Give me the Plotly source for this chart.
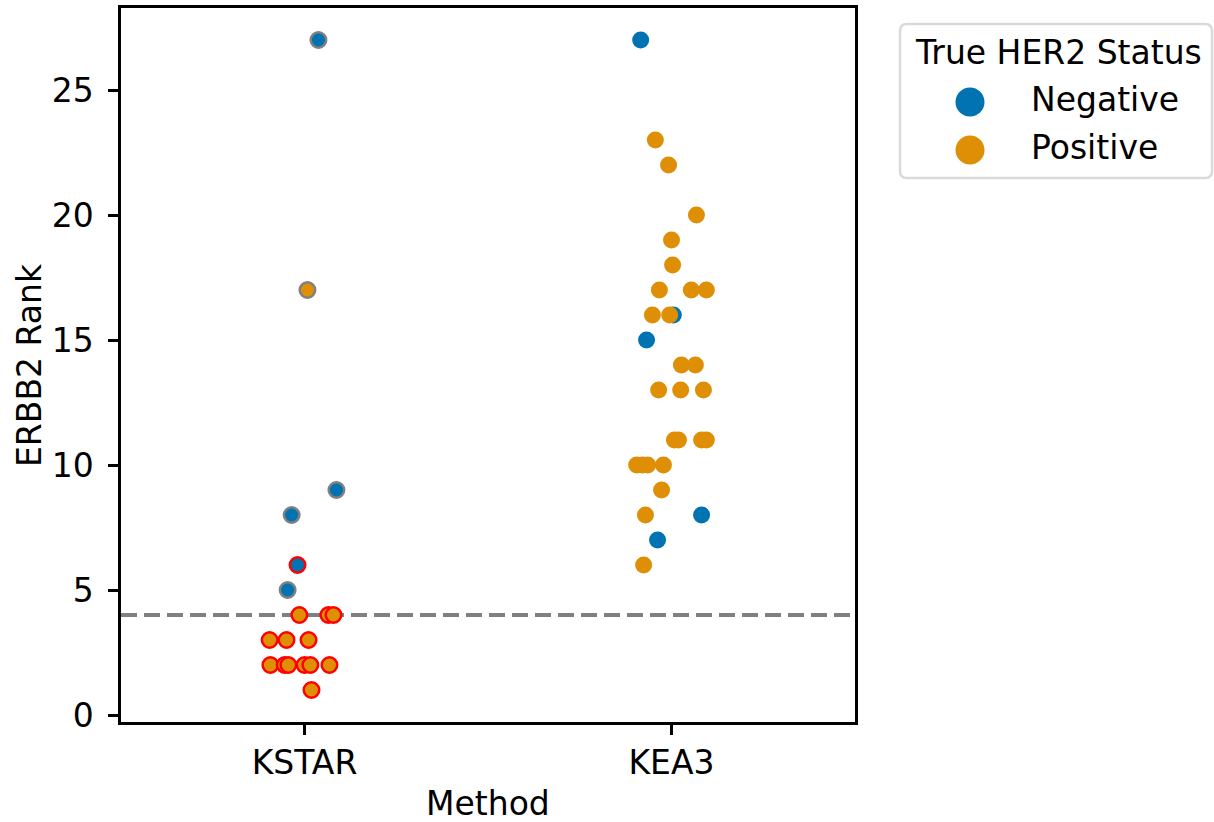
import plotly.graph_objects as go

# ---- data -------------------------------------------------------------
methods = ["KSTAR", "KEA3"]
status_labels = ["Negative", "Positive"]

# KSTAR ranks of ERBB2
kstar_neg_rank = [27, 9, 8, 6, 5]
kstar_neg_jitter = [0.038, 0.087, -0.035, -0.019, -0.046]
kstar_neg_edge = ["grey", "grey", "grey", "red", "grey"]

kstar_pos_rank = [17, 4, 4, 4, 3, 3, 3, 2, 2, 2, 2, 2, 2, 1]
kstar_pos_jitter = [0.008, -0.014, 0.065, 0.079, -0.095, -0.049, 0.011,
                    -0.093, -0.054, -0.044, 0.0, 0.016, 0.068, 0.019]
kstar_pos_edge = ["grey"] + ["red"] * 13

# KEA3 ranks of ERBB2
kea3_neg_rank = [27, 16, 15, 8, 7]
kea3_neg_jitter = [-0.084, 0.005, -0.068, 0.082, -0.038]

kea3_pos_rank = [23, 22, 20, 19, 18, 17, 17, 17, 16, 16, 14, 14, 13, 13, 13,
                 11, 11, 11, 11, 10, 10, 10, 10, 9, 8, 6]
kea3_pos_jitter = [-0.044, -0.008, 0.068, 0.0, 0.003, -0.033, 0.054, 0.095,
                   -0.052, -0.005, 0.027, 0.065, -0.035, 0.025, 0.087,
                   0.008, 0.019, 0.082, 0.095, -0.095, -0.079, -0.065, -0.022,
                   -0.027, -0.071, -0.076]

threshold_rank = 4
y_ticks = [0, 5, 10, 15, 20, 25]

# ---- style ------------------------------------------------------------
BLUE = "#0173b2"
ORANGE = "#de8f05"
FONT = "DejaVu Sans"
FS = 33

W, H = 1214, 822
L, R, T, B = 121, 855, 8, 722   # plot area in pixels


def px(xp):
    return (xp - L) / (R - L)


def py(yp):
    return (B - yp) / (B - T)


fig = go.Figure()

# threshold line under the points
fig.add_shape(type="line", xref="x domain", yref="y", x0=0, x1=1,
              y0=threshold_rank, y1=threshold_rank,
              line=dict(color="#808080", width=4, dash="16px,7px"), layer="below")


def strip(method_idx, ranks, jitter, color, edges=None):
    xs = [method_idx + j for j in jitter]
    if edges is None:
        marker = dict(color=color, size=17, line=dict(width=0))
    else:
        marker = dict(color=color, size=15.5, line=dict(color=edges, width=2.5))
    fig.add_trace(go.Scatter(x=xs, y=ranks, mode="markers", marker=marker,
                             showlegend=False, hoverinfo="y"))


strip(0, kstar_neg_rank, kstar_neg_jitter, BLUE, kstar_neg_edge)
strip(0, kstar_pos_rank, kstar_pos_jitter, ORANGE, kstar_pos_edge)
strip(1, kea3_neg_rank, kea3_neg_jitter, BLUE)
strip(1, kea3_pos_rank, kea3_pos_jitter, ORANGE)

# ---- legend box (drawn by hand for large markers) --------------------
lx0, lx1, ly0, ly1, rad = 900, 1212, 24, 178, 7
rx = rad / (R - L)
ry = rad / (B - T)
X0, X1, Y0, Y1 = px(lx0), px(lx1), py(ly1), py(ly0)
path = (f"M {X0 + rx},{Y0} L {X1 - rx},{Y0} Q {X1},{Y0} {X1},{Y0 + ry} "
        f"L {X1},{Y1 - ry} Q {X1},{Y1} {X1 - rx},{Y1} "
        f"L {X0 + rx},{Y1} Q {X0},{Y1} {X0},{Y1 - ry} "
        f"L {X0},{Y0 + ry} Q {X0},{Y0} {X0 + rx},{Y0} Z")
fig.add_shape(type="path", xref="paper", yref="paper", path=path,
              line=dict(color="#d9d9d9", width=2.5), fillcolor="white")

fig.add_annotation(x=px(1058), y=py(52), xref="paper", yref="paper",
                   text="True HER2 Status", showarrow=False,
                   xanchor="center", yanchor="middle",
                   font=dict(family=FONT, size=FS, color="black"))
for label, color, yy in [(status_labels[0], BLUE, 100), (status_labels[1], ORANGE, 148)]:
    fig.add_shape(type="circle", xref="paper", yref="paper",
                  xsizemode="pixel", ysizemode="pixel",
                  xanchor=px(970), yanchor=py(yy + 2),
                  x0=-14.5, x1=14.5, y0=-14.5, y1=14.5,
                  fillcolor=color, line=dict(width=0))
    fig.add_annotation(x=px(1029), y=py(yy), xref="paper", yref="paper",
                       text=label, showarrow=False,
                       xanchor="left", yanchor="middle",
                       font=dict(family=FONT, size=FS, color="black"))

# ---- axis titles -------------------------------------------------------
fig.add_annotation(x=px(488), y=py(803), xref="paper", yref="paper",
                   text="Method", showarrow=False, xanchor="center", yanchor="middle",
                   font=dict(family=FONT, size=FS, color="black"))
fig.add_annotation(x=px(29), y=py(365), xref="paper", yref="paper",
                   text="ERBB2 Rank", showarrow=False, textangle=-90,
                   xanchor="center", yanchor="middle",
                   font=dict(family=FONT, size=FS, color="black"))

axis_common = dict(showline=True, linecolor="black", linewidth=2.5, mirror=True,
                   ticks="outside", ticklen=10, tickwidth=2.5, tickcolor="black",
                   showgrid=False, zeroline=False,
                   tickfont=dict(family=FONT, size=FS, color="black"))

fig.update_xaxes(range=[-0.5, 1.5], tickvals=[0, 1], ticktext=methods, **axis_common)
fig.update_yaxes(range=[-0.28, 28.28], tickvals=y_ticks, ticklabelstandoff=8,
                 **axis_common)

fig.update_layout(width=W, height=H, plot_bgcolor="white", paper_bgcolor="white",
                  margin=dict(l=L, r=W - R, t=T, b=H - B, autoexpand=False),
                  font=dict(family=FONT, size=FS, color="black"),
                  showlegend=False)

fig.write_html("out.html")
